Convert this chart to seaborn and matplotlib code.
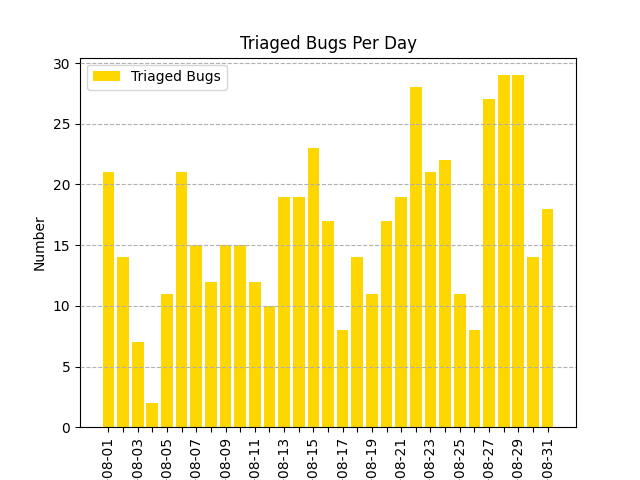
import matplotlib
matplotlib.use("Agg")
import matplotlib.pyplot as plt
import seaborn as sns
import pandas as pd

days = ["2017-08-%02d" % d for d in range(1, 32)]
triaged = [21, 14, 7, 2, 11, 21, 15, 12, 15, 15, 12, 10, 19, 19, 23, 17,
           8, 14, 11, 17, 19, 28, 21, 22, 11, 8, 27, 29, 29, 14, 18]

df = pd.DataFrame({"day": days, "triaged": triaged})

fig, ax = plt.subplots(figsize=(6.4, 4.8), dpi=100)
sns.barplot(data=df, x="day", y="triaged", color="#FFD700", saturation=1,
            width=0.8, label="Triaged Bugs", ax=ax)

n = len(days)
pad = 0.05 * (n - 1 + 0.8)
ax.set_xlim(-0.4 - pad, n - 1 + 0.4 + pad)
ax.set_xticks(range(n))
ax.set_xticklabels([d if i % 2 == 0 else "" for i, d in enumerate(days)],
                   rotation=90)
ax.set_axisbelow(False)
ax.grid(axis="y", linestyle="--")
ax.set_xlabel("")
ax.set_ylabel("Number")
ax.set_title("Triaged Bugs Per Day")
ax.legend(loc="upper left")

fig.savefig("out.png", dpi=100)
